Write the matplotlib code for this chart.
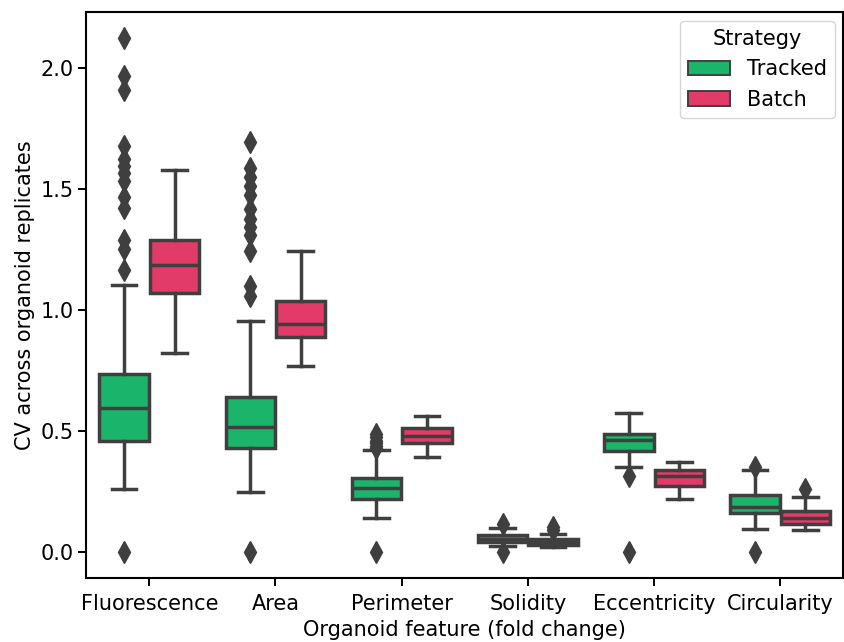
import numpy as np
import matplotlib.pyplot as plt
from matplotlib.patches import Patch

# Box statistics (CV across organoid replicates)
features = ['Fluorescence', 'Area', 'Perimeter', 'Solidity', 'Eccentricity', 'Circularity']
strategies = ['Tracked', 'Batch']

tracked_q1 = [0.459, 0.432, 0.218, 0.041, 0.417, 0.163]
tracked_med = [0.597, 0.516, 0.266, 0.056, 0.463, 0.187]
tracked_q3 = [0.736, 0.643, 0.307, 0.072, 0.488, 0.238]
tracked_lo = [0.260, 0.250, 0.143, 0.025, 0.353, 0.096]
tracked_hi = [1.105, 0.956, 0.421, 0.099, 0.574, 0.339]
tracked_fliers = [
    [2.124, 1.970, 1.910, 1.678, 1.626, 1.596, 1.566, 1.536, 1.469, 1.424, 1.289, 1.252, 1.165, 0.0],
    [1.696, 1.589, 1.551, 1.514, 1.476, 1.417, 1.379, 1.342, 1.312, 1.245, 1.102, 1.058, 0.0],
    [0.49, 0.475, 0.46, 0.45, 0.44, 0.43, 0.0],
    [0.115, 0.0],
    [0.314, 0.0],
    [0.35, 0.0],
]

batch_q1 = [1.070, 0.889, 0.449, 0.028, 0.273, 0.118]
batch_med = [1.185, 0.941, 0.482, 0.041, 0.314, 0.142]
batch_q3 = [1.292, 1.040, 0.511, 0.055, 0.339, 0.169]
batch_lo = [0.823, 0.769, 0.394, 0.022, 0.218, 0.090]
batch_hi = [1.581, 1.245, 0.563, 0.074, 0.372, 0.229]
batch_fliers = [[], [], [], [0.105, 0.09], [], [0.259]]

colors = ['#1bb46b', '#e23a69']
gray = '#3f3f3f'


def make_stats(q1, med, q3, lo, hi, fl):
    return [dict(q1=a, med=b, q3=c, whislo=d, whishi=e, fliers=f)
            for a, b, c, d, e, f in zip(q1, med, q3, lo, hi, fl)]


groups = [
    make_stats(tracked_q1, tracked_med, tracked_q3, tracked_lo, tracked_hi, tracked_fliers),
    make_stats(batch_q1, batch_med, batch_q3, batch_lo, batch_hi, batch_fliers),
]

fig = plt.figure(figsize=(8.45, 6.42), dpi=100)
ax = fig.add_axes([0.102, 0.0997, 0.896, 0.881])

x = np.arange(len(features))
offsets = [-0.2, 0.2]
lw = 2.5
for stats, off, col in zip(groups, offsets, colors):
    ax.bxp(stats, positions=x + off, widths=0.392, patch_artist=True,
           showfliers=True,
           boxprops=dict(facecolor=col, edgecolor=gray, linewidth=lw),
           medianprops=dict(color=gray, linewidth=lw),
           whiskerprops=dict(color=gray, linewidth=lw),
           capprops=dict(color=gray, linewidth=lw),
           flierprops=dict(marker='d', markerfacecolor=gray, markeredgecolor=gray,
                           markersize=11))

ax.set_xlim(-0.5, 5.5)
ax.set_ylim(-0.107, 2.231)
ax.set_xticks(x)
ax.set_xticklabels(features)
ax.set_yticks([0.0, 0.5, 1.0, 1.5, 2.0])
ax.tick_params(labelsize=15, length=5.5, width=1.4)
ax.tick_params(axis='x', pad=6)
for s in ax.spines.values():
    s.set_linewidth(1.5)
ax.set_xlabel('Organoid feature (fold change)', fontsize=15, labelpad=4)
ax.set_ylabel('CV across organoid replicates', fontsize=15)

handles = [Patch(facecolor=c, edgecolor=gray, linewidth=1.4, label=l)
           for c, l in zip(colors, strategies)]
ax.legend(handles=handles, title='Strategy', loc='upper right', fontsize=15,
          title_fontsize=15, borderaxespad=0.4)

fig.savefig('out.png', dpi=100)
